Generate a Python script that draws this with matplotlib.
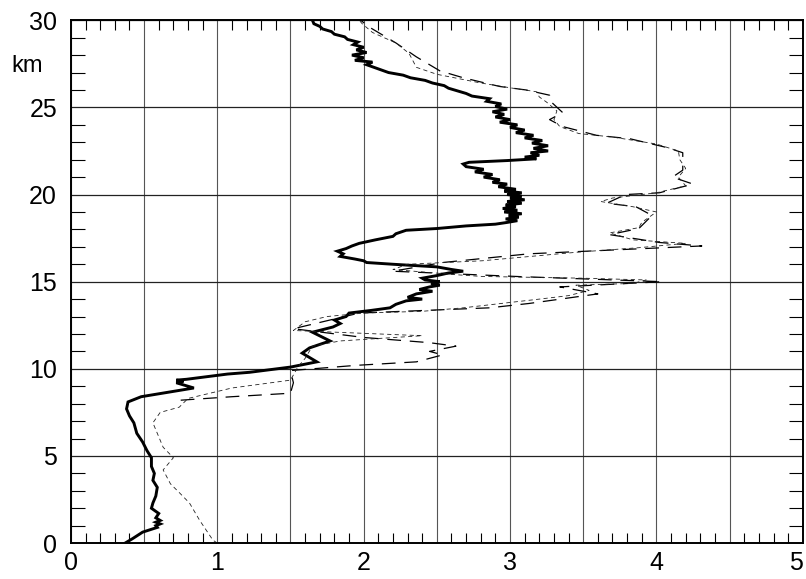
import matplotlib
matplotlib.use("Agg")
import matplotlib.pyplot as plt
from matplotlib.ticker import MultipleLocator

plt.rcParams['font.family'] = ['Liberation Sans', 'DejaVu Sans']

# Solid profile (x value, altitude km)
solid_x = [0.37, 0.42, 0.49, 0.59, 0.58, 0.61, 0.58, 0.61, 0.58, 0.60, 0.55, 0.56, 0.58, 0.59,
           0.56, 0.57, 0.55, 0.55, 0.52, 0.49, 0.45, 0.43, 0.40, 0.38, 0.39, 0.48, 0.84, 0.72,
           0.77, 0.72, 0.79, 1.07, 1.22, 1.50, 1.68, 1.58, 1.63, 1.77, 1.65, 1.79,
           1.84, 1.80, 1.88, 1.90, 2.05, 2.18, 2.22, 2.29, 2.40, 2.30, 2.36, 2.47, 2.38, 2.45,
           2.52, 2.46, 2.52, 2.42, 2.40, 2.50, 2.58, 2.68, 2.60, 2.50, 2.20, 2.02, 2.00, 1.94,
           1.84, 1.86, 1.82, 1.88, 1.92, 1.97, 2.08, 2.20, 2.22, 2.29, 2.50, 2.70, 2.90, 2.98,
           3.05, 2.97, 3.06, 2.99, 3.08, 2.96, 3.05, 2.95, 3.04, 2.97, 3.08, 2.98, 3.10, 3.00,
           3.08, 2.98, 3.08, 2.96, 3.04, 2.92, 2.98, 2.88, 2.93, 2.82, 2.88, 2.76, 2.82, 2.70,
           2.68, 2.72, 2.98, 3.18, 3.10, 3.20, 3.14, 3.26, 3.16, 3.26, 3.15, 3.22, 3.10, 3.16,
           3.04, 3.10, 3.00, 3.05, 2.93, 3.00, 2.90, 2.96, 2.88, 2.98, 2.90, 2.94, 2.84, 2.86,
           2.74, 2.70, 2.64, 2.58, 2.55, 2.47, 2.42, 2.32, 2.27, 2.17, 2.12, 2.07, 2.02, 2.06,
           1.94, 2.00, 1.92, 2.02, 1.95, 2.00, 1.93, 1.96, 1.89, 1.87, 1.80, 1.78, 1.72, 1.70,
           1.66, 1.65]
solid_y = [0.0, 0.25, 0.63, 0.9, 1.0, 1.1, 1.2, 1.3, 1.45, 1.7, 2.0, 2.3, 2.7, 3.2,
           3.6, 4.0, 4.4, 4.9, 5.3, 5.8, 6.3, 6.9, 7.3, 7.7, 8.1, 8.4, 8.9, 9.2,
           9.3, 9.35, 9.4, 9.7, 9.8, 10.1, 10.4, 10.9, 11.2, 11.6, 12.1, 12.4,
           12.6, 12.8, 13.0, 13.2, 13.35, 13.5, 13.7, 13.9, 14.0, 14.1, 14.3, 14.45, 14.55, 14.7,
           14.8, 14.9, 15.0, 15.1, 15.2, 15.35, 15.5, 15.6, 15.7, 15.85, 16.0, 16.1, 16.2, 16.3,
           16.45, 16.6, 16.75, 16.9, 17.05, 17.2, 17.4, 17.6, 17.75, 17.95, 18.05, 18.2, 18.3, 18.4,
           18.5, 18.6, 18.7, 18.8, 18.9, 19.0, 19.1, 19.2, 19.3, 19.4, 19.5, 19.6, 19.7, 19.8,
           19.9, 20.0, 20.1, 20.2, 20.3, 20.45, 20.6, 20.7, 20.85, 21.0, 21.15, 21.3, 21.45, 21.6,
           21.75, 21.85, 21.95, 22.05, 22.15, 22.25, 22.4, 22.5, 22.65, 22.8, 22.95, 23.1, 23.25, 23.4,
           23.55, 23.7, 23.85, 24.0, 24.15, 24.3, 24.45, 24.6, 24.75, 24.9, 25.05, 25.2, 25.35, 25.5,
           25.65, 25.8, 25.95, 26.1, 26.25, 26.4, 26.55, 26.7, 26.85, 27.0, 27.15, 27.3, 27.45, 27.6,
           27.7, 27.85, 28.0, 28.15, 28.3, 28.45, 28.6, 28.75, 28.9, 29.05, 29.2, 29.35, 29.5, 29.65,
           29.8, 30.0]

# Long-dashed profile
dash_x = [0.75, 1.10, 1.50, 1.52, 1.50, 1.95, 2.36, 2.54, 2.45, 2.63, 2.45, 2.00, 1.52, 1.97,
          2.86, 3.13, 3.60, 3.34, 4.04, 3.04, 2.20, 2.54, 3.13, 4.31, 4.02, 3.68, 3.88, 3.97,
          3.86, 3.66, 3.79, 4.02, 4.25, 4.11, 4.18, 4.18, 4.07, 3.82, 3.59, 3.36, 3.27, 3.36,
          3.27, 3.27, 3.11, 2.93, 2.68, 2.52, 2.36, 2.22, 2.04, 1.98]
dash_y = [8.2, 8.4, 8.6, 9.2, 9.9, 10.2, 10.4, 10.8, 11.0, 11.3, 11.5, 11.8, 12.3, 13.2,
          13.5, 13.75, 14.3, 14.7, 15.0, 15.3, 15.6, 16.1, 16.6, 17.05, 17.25, 17.7, 18.05, 18.8,
          19.3, 19.5, 20.0, 20.1, 20.6, 21.0, 21.4, 22.4, 22.7, 23.2, 23.4, 23.9, 24.3, 24.7,
          25.4, 25.7, 26.0, 26.2, 26.7, 27.1, 27.9, 28.7, 29.6, 30.0]

# Fine-dashed profile
fine_x = [1.00, 0.97, 0.88, 0.81, 0.74, 0.68, 0.63, 0.70, 0.63, 0.59, 0.56, 0.61, 0.74, 0.80,
          1.10, 1.50, 1.55, 1.60, 1.65, 1.84, 2.40, 1.52, 1.60, 1.75, 2.00, 2.40, 2.68, 3.20,
          3.40, 3.54, 3.45, 3.84, 3.93, 3.50, 2.81, 2.63, 2.20, 2.30, 2.81, 3.47, 3.88, 4.20,
          3.84, 3.68, 3.88, 3.90, 4.00, 3.84, 3.62, 3.70, 4.00, 4.20, 4.15, 4.20, 4.16, 4.15,
          4.00, 3.70, 3.47, 3.34, 3.30, 3.32, 3.25, 3.20, 3.18, 3.02, 2.80, 2.50, 2.36, 2.31,
          2.22, 2.06, 1.99, 1.97]
fine_y = [0.0, 0.17, 1.3, 2.3, 2.9, 3.4, 4.2, 4.9, 5.5, 6.3, 6.9, 7.5, 7.8, 8.3,
          8.9, 9.35, 10.1, 10.6, 11.3, 11.6, 11.9, 12.2, 12.7, 13.0, 13.2, 13.3, 13.5, 14.0,
          14.2, 14.5, 14.8, 14.9, 15.1, 15.2, 15.3, 15.4, 15.7, 16.0, 16.2, 16.7, 16.95, 17.2,
          17.4, 17.8, 18.1, 18.4, 19.0, 19.3, 19.6, 19.8, 20.1, 20.5, 21.0, 21.5, 22.0, 22.5,
          22.9, 23.3, 23.5, 23.9, 24.3, 24.8, 25.3, 25.6, 25.9, 26.1, 26.4, 26.9, 27.3, 28.1,
          28.7, 29.3, 29.8, 30.0]

x_labels = ['0', '1', '2', '3', '4', '5']
y_labels = ['0', '5', '10', '15', '20', '25', '30']

fig = plt.figure(figsize=(8.06, 5.79), dpi=100)
ax = fig.add_axes([0.088, 0.062, 0.908, 0.903])

ax.set_xlim(0, 5)
ax.set_ylim(0, 30)

ax.plot(solid_x, solid_y, color='black', lw=2.1, solid_joinstyle='miter')
ax.plot(dash_x, dash_y, color='black', lw=0.9, dashes=(11, 7))
ax.plot(fine_x, fine_y, color='#222222', lw=0.6, dashes=(5, 4))

xt = [i * 0.5 for i in range(11)]
ax.set_xticks(xt)
ax.set_xticklabels([x_labels[int(v)] if v == int(v) else '' for v in xt])
ax.xaxis.set_minor_locator(MultipleLocator(0.1))
ax.set_yticks(range(0, 31, 5))
ax.set_yticklabels(y_labels)
ax.yaxis.set_minor_locator(MultipleLocator(1))

ax.grid(True, which='major', axis='x', color='#555555', lw=0.8)
ax.grid(True, which='major', axis='y', color='#222222', lw=0.9)
ax.set_axisbelow(True)

ax.tick_params(which='major', length=0, labelsize=18, pad=6)
ax.tick_params(axis='y', which='major', pad=10)
ax.tick_params(axis='x', which='minor', direction='in', length=7, width=0.8, top=True, bottom=True)
ax.tick_params(axis='y', which='minor', direction='in', length=10, width=0.8, left=True, right=True)

# keep the last x label inside the figure edge
ax.get_xticklabels()[-1].set_horizontalalignment('right')

for s in ax.spines.values():
    s.set_linewidth(1.4)

ax.text(-0.038, 27.4, 'km', transform=ax.get_yaxis_transform(), ha='right', va='center', fontsize=17)

fig.savefig('out.png', dpi=100)
